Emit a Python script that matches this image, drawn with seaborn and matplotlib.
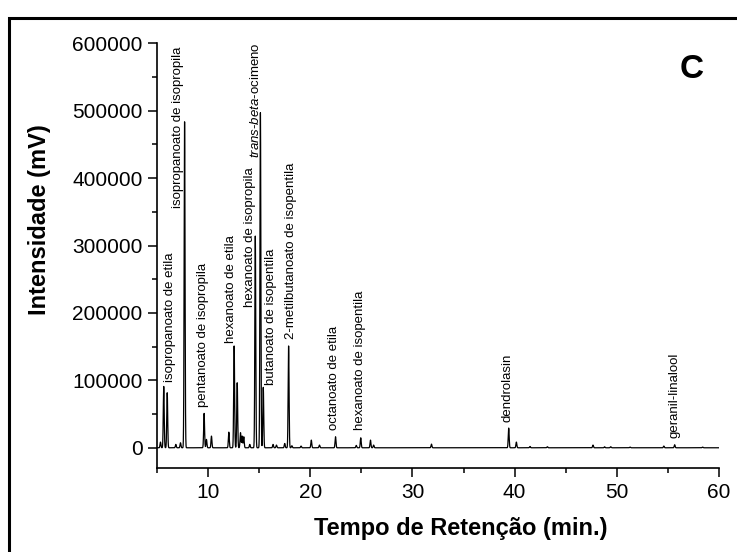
import numpy as np
import pandas as pd
import matplotlib
matplotlib.use("Agg")
import matplotlib.pyplot as plt
import seaborn as sns
from matplotlib.ticker import MultipleLocator, StrMethodFormatter
from matplotlib.patches import Rectangle

# Resolved peaks of the chromatogram: retention time (min) and intensity (mV)
peak_time = [5.34, 5.66, 6.00, 6.84, 7.30, 7.70, 9.61, 9.84, 10.33, 12.03,
             12.55, 12.85, 13.17, 13.33, 13.49, 14.08, 14.62, 15.12, 15.40,
             16.36, 16.69, 17.50, 17.88, 18.20, 19.10, 20.10, 20.90, 22.47,
             24.50, 24.94, 25.89, 26.20, 31.86, 39.42, 40.17, 41.50, 43.20,
             47.67, 48.80, 49.40, 51.30, 54.60, 55.66, 58.40]
peak_height = [8400, 91000, 81600, 5000, 7400, 483500, 51000, 12400, 17300, 23200,
               151000, 96400, 22300, 17300, 16300, 5000, 314000, 497000, 89600,
               5000, 4000, 6400, 151000, 3000, 2500, 11400, 4000, 16300,
               3500, 14800, 11400, 4000, 5400, 29200, 8400, 2000, 1500,
               4000, 1500, 1500, 1000, 2500, 4500, 1000]
peak_sigma = 0.045

# Identified compounds
compound_names = [
    "isopropanoato de etila",
    "isopropanoato de isopropila",
    "pentanoato de isopropila",
    "hexanoato de etila",
    "hexanoato de isopropila",
    r"$\it{trans}$-$\it{beta}$-ocimeno",
    "butanoato de isopentila",
    "2-metilbutanoato de isopentila",
    "octanoato de etila",
    "hexanoato de isopentila",
    "dendrolasin",
    "geranil-linalool",
]
# anchor (time, intensity) of the bottom of each rotated compound label
label_anchor = [(6.27, 97900), (7.06, 355600), (9.51, 60800), (12.29, 155300),
                (14.08, 209200), (14.67, 429800), (16.20, 93000), (18.16, 161700),
                (22.30, 26300), (24.84, 26300), (39.35, 38600), (55.67, 13900)]

x_ticks = [10, 20, 30, 40, 50, 60]
y_ticks = [0, 100000, 200000, 300000, 400000, 500000, 600000]

# Sum of narrow peak profiles on a flat baseline
t = np.arange(5.0, 60.0 + 1e-9, 0.005)
signal = np.zeros_like(t)
for tp, h in zip(peak_time, peak_height):
    signal += h * np.exp(-0.5 * ((t - tp) / peak_sigma) ** 2)
trace = pd.DataFrame({"Tempo": t, "Intensidade": signal})

sns.set_theme(style="ticks")
plt.rcParams["font.family"] = ["Liberation Sans", "DejaVu Sans"]
plt.rcParams["mathtext.fontset"] = "custom"
plt.rcParams["mathtext.rm"] = "Liberation Sans"
plt.rcParams["mathtext.it"] = "Liberation Sans:italic"
for key in ("text.color", "axes.labelcolor", "xtick.color", "ytick.color",
            "axes.edgecolor"):
    plt.rcParams[key] = "black"

fig = plt.figure(figsize=(7.37, 5.52), dpi=100)
ax = fig.add_axes([157 / 737, 1 - 468 / 552, (719 - 157) / 737, (468 - 43.3) / 552])

sns.lineplot(data=trace, x="Tempo", y="Intensidade", ax=ax, color="black",
             linewidth=0.9, estimator=None, sort=False)

ax.set_xlim(5, 60)
ax.set_ylim(-30000, 600000)
ax.set_xticks(x_ticks)
ax.set_yticks(y_ticks)
ax.xaxis.set_minor_locator(MultipleLocator(5))
ax.yaxis.set_minor_locator(MultipleLocator(50000))
ax.yaxis.set_major_formatter(StrMethodFormatter("{x:.0f}"))
ax.tick_params(axis="both", which="major", direction="out", length=6.5, width=1.1,
               labelsize=15, pad=4, color="black", labelcolor="black")
ax.tick_params(axis="both", which="minor", direction="out", length=3.3, width=1.1,
               color="black")

for side in ("top", "right"):
    ax.spines[side].set_visible(False)
for side in ("left", "bottom"):
    ax.spines[side].set_linewidth(1.2)
    ax.spines[side].set_color("black")

ax.set_xlabel("Tempo de Retenção (min.)", fontsize=17, fontweight="bold")
ax.set_ylabel("Intensidade (mV)", fontsize=17, fontweight="bold")
ax.xaxis.set_label_coords(0.541, -0.115)
ax.yaxis.set_label_coords(-0.1886, 0.584)

for name, (lx, ly) in zip(compound_names, label_anchor):
    ax.text(lx, ly, name, rotation=90, ha="center", va="bottom",
            fontsize=9.5, color="black")

ax.text(0.951, 0.939, "C", transform=ax.transAxes, fontsize=24,
        fontweight="bold", ha="center", va="center")

# frame around the panel
fig.patches.append(Rectangle((9 / 737, -0.1), 1.2, 1.1 - 17.5 / 552,
                             transform=fig.transFigure, fill=False,
                             edgecolor="black", linewidth=2.2))

fig.savefig("out.png", dpi=100)
